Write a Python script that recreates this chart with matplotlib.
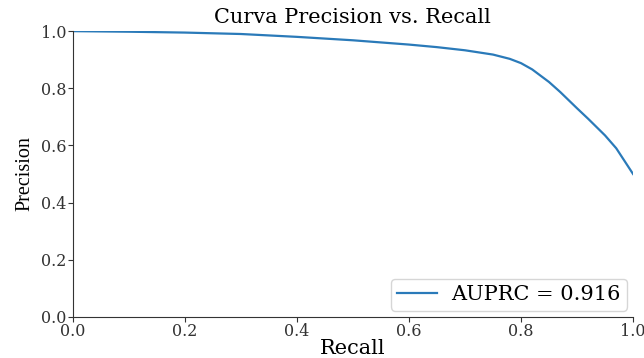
import matplotlib.pyplot as plt

recall = [0.0, 0.1, 0.2, 0.3, 0.4, 0.5, 0.6, 0.65, 0.7, 0.75, 0.78, 0.8, 0.82, 0.85, 0.87, 0.9, 0.92, 0.95, 0.97, 0.99, 1.0]
precision = [1.0, 0.998, 0.995, 0.99, 0.98, 0.968, 0.953, 0.944, 0.933, 0.918, 0.903, 0.888, 0.866, 0.822, 0.787, 0.73, 0.693, 0.635, 0.59, 0.53, 0.5]
auprc = 0.916

plt.rcParams["font.family"] = ["DejaVu Serif"]

fig, ax = plt.subplots(figsize=(6.44, 3.58), dpi=100)
fig.subplots_adjust(left=0.113, right=0.983, top=0.913, bottom=0.115)

ax.plot(recall, precision, color="#2a7ab9", lw=1.6, label=f"AUPRC = {auprc}")
ax.set_xlim(0, 1.0)
ax.set_ylim(0, 1.0)
ax.set_title("Curva Precision vs. Recall", fontsize=15, pad=6)
ax.set_xlabel("Recall", fontsize=15, labelpad=-1)
ax.set_ylabel("Precision", fontsize=14.5, family=["Liberation Serif"], labelpad=5)
ax.tick_params(labelsize=11.5, colors="#333333", pad=1)
for s in ["top", "right"]:
    ax.spines[s].set_visible(False)
for s in ["left", "bottom"]:
    ax.spines[s].set_color("#333333")
ax.legend(loc="lower right", fontsize=15, handlelength=1.9, borderaxespad=0.3,
          borderpad=0.3, labelspacing=0.3, handletextpad=0.7)

fig.savefig("out.png")
plt.close(fig)
